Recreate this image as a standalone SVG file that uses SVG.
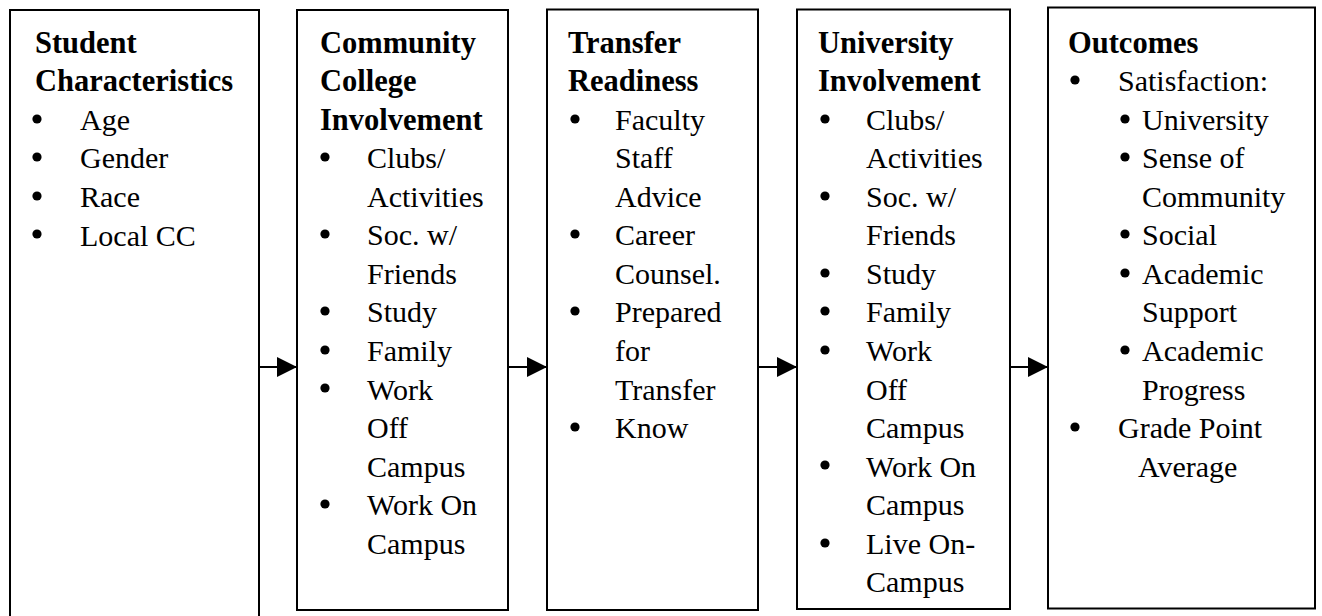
<svg xmlns="http://www.w3.org/2000/svg" xmlns:xlink="http://www.w3.org/1999/xlink" width="1322" height="616" viewBox="0 0 1322 616">
  <style>
    .box { fill: #fff; stroke: #000; stroke-width: 2; }
    .hd { font-family: "Liberation Serif", "Times New Roman", serif; font-weight: bold; font-size: 30.5px; fill: #000; }
    .tx { font-family: "Liberation Serif", "Times New Roman", serif; font-size: 30px; fill: #000; }
    .conn { stroke: #000; stroke-width: 2; fill: none; }
  </style>
  <defs>
    <marker id="arrow" markerUnits="userSpaceOnUse" markerWidth="21" markerHeight="20" refX="20" refY="10" orient="auto">
      <path d="M0,0 L20,10 L0,20 Z" fill="#000"/>
    </marker>
    <circle id="dot" r="4.6" fill="#000"/>
    <!-- last line of the university column runs into the frame edge -->
    <clipPath id="univ-clip">
      <rect x="797" y="0" width="213" height="598"/>
    </clipPath>
  </defs>
  <rect width="1322" height="616" fill="#fff"/>

  <!-- Student characteristics -->
  <g id="node-student">
    <rect class="box" x="10" y="10" width="249" height="607"/>
    <text class="hd" x="35" y="52.5">Student</text>
    <text class="hd" x="35" y="91">Characteristics</text>
    <use xlink:href="#dot" x="37" y="119"/>
    <text class="tx" x="80" y="130">Age</text>
    <use xlink:href="#dot" x="37" y="157"/>
    <text class="tx" x="80" y="168">Gender</text>
    <use xlink:href="#dot" x="37" y="196"/>
    <text class="tx" x="80" y="207">Race</text>
    <use xlink:href="#dot" x="37" y="234"/>
    <text class="tx" x="80" y="245.5">Local CC</text>
  </g>

  <!-- Community college involvement -->
  <g id="node-cc">
    <rect class="box" x="297" y="10" width="211" height="600"/>
    <text class="hd" x="320" y="52.5">Community</text>
    <text class="hd" x="320" y="91">College</text>
    <text class="hd" x="320" y="129.5">Involvement</text>
    <use xlink:href="#dot" x="325" y="157"/>
    <text class="tx" x="367" y="168">Clubs/</text>
    <text class="tx" x="367" y="206.5">Activities</text>
    <use xlink:href="#dot" x="325" y="234"/>
    <text class="tx" x="367" y="245">Soc. w/</text>
    <text class="tx" x="367" y="283.5">Friends</text>
    <use xlink:href="#dot" x="325" y="311"/>
    <text class="tx" x="367" y="322">Study</text>
    <use xlink:href="#dot" x="325" y="350"/>
    <text class="tx" x="367" y="361">Family</text>
    <use xlink:href="#dot" x="325" y="388"/>
    <text class="tx" x="367" y="399.5">Work</text>
    <text class="tx" x="367" y="438">Off</text>
    <text class="tx" x="367" y="476.5">Campus</text>
    <use xlink:href="#dot" x="325" y="504"/>
    <text class="tx" x="367" y="515">Work On</text>
    <text class="tx" x="367" y="553.5">Campus</text>
  </g>

  <!-- Transfer readiness -->
  <g id="node-transfer">
    <rect class="box" x="547" y="9.5" width="211" height="600.5"/>
    <text class="hd" x="568" y="52.5">Transfer</text>
    <text class="hd" x="568" y="91">Readiness</text>
    <use xlink:href="#dot" x="575" y="119"/>
    <text class="tx" x="615" y="130">Faculty</text>
    <text class="tx" x="615" y="168">Staff</text>
    <text class="tx" x="615" y="207">Advice</text>
    <use xlink:href="#dot" x="575" y="234"/>
    <text class="tx" x="615" y="245">Career</text>
    <text class="tx" x="615" y="283.5">Counsel.</text>
    <use xlink:href="#dot" x="575" y="311"/>
    <text class="tx" x="615" y="322">Prepared</text>
    <text class="tx" x="615" y="361">for</text>
    <text class="tx" x="615" y="399.5">Transfer</text>
    <use xlink:href="#dot" x="575" y="427"/>
    <text class="tx" x="615" y="438">Know</text>
  </g>

  <!-- University involvement -->
  <g id="node-univ">
    <rect class="box" x="797" y="9.5" width="213" height="599.5"/>
    <g clip-path="url(#univ-clip)">
      <text class="hd" x="818" y="52.5">University</text>
      <text class="hd" x="818" y="91">Involvement</text>
      <use xlink:href="#dot" x="825" y="119"/>
      <text class="tx" x="866" y="130">Clubs/</text>
      <text class="tx" x="866" y="168">Activities</text>
      <use xlink:href="#dot" x="825" y="196"/>
      <text class="tx" x="866" y="207">Soc. w/</text>
      <text class="tx" x="866" y="245">Friends</text>
      <use xlink:href="#dot" x="825" y="273"/>
      <text class="tx" x="866" y="283.5">Study</text>
      <use xlink:href="#dot" x="825" y="311"/>
      <text class="tx" x="866" y="322">Family</text>
      <use xlink:href="#dot" x="825" y="350"/>
      <text class="tx" x="866" y="361">Work</text>
      <text class="tx" x="866" y="399.5">Off</text>
      <text class="tx" x="866" y="438">Campus</text>
      <use xlink:href="#dot" x="825" y="465"/>
      <text class="tx" x="866" y="476.5">Work On</text>
      <text class="tx" x="866" y="515">Campus</text>
      <use xlink:href="#dot" x="825" y="543"/>
      <text class="tx" x="866" y="553.5">Live On-</text>
      <text class="tx" x="866" y="592">Campus</text>
    </g>
  </g>

  <!-- Outcomes -->
  <g id="node-outcomes">
    <rect class="box" x="1048" y="7.5" width="267" height="601"/>
    <text class="hd" x="1068" y="52.5">Outcomes</text>
    <use xlink:href="#dot" x="1075" y="80"/>
    <text class="tx" x="1118" y="91">Satisfaction:</text>
    <use xlink:href="#dot" x="1125" y="119"/>
    <text class="tx" x="1142" y="130">University</text>
    <use xlink:href="#dot" x="1125" y="157"/>
    <text class="tx" x="1142" y="168">Sense of</text>
    <text class="tx" x="1142" y="207">Community</text>
    <use xlink:href="#dot" x="1125" y="234"/>
    <text class="tx" x="1142" y="245">Social</text>
    <use xlink:href="#dot" x="1125" y="273"/>
    <text class="tx" x="1142" y="283.5">Academic</text>
    <text class="tx" x="1142" y="322">Support</text>
    <use xlink:href="#dot" x="1125" y="350"/>
    <text class="tx" x="1142" y="361">Academic</text>
    <text class="tx" x="1142" y="399.5">Progress</text>
    <use xlink:href="#dot" x="1075" y="427"/>
    <text class="tx" x="1118" y="438">Grade Point</text>
    <text class="tx" x="1138" y="476.5">Average</text>
  </g>

  <!-- Connectors -->
  <g id="connectors">
    <line class="conn" x1="259" y1="367" x2="297" y2="367" marker-end="url(#arrow)"/>
    <line class="conn" x1="508" y1="367" x2="547" y2="367" marker-end="url(#arrow)"/>
    <line class="conn" x1="758" y1="367" x2="797" y2="367" marker-end="url(#arrow)"/>
    <line class="conn" x1="1010" y1="367" x2="1048" y2="367" marker-end="url(#arrow)"/>
  </g>
</svg>
